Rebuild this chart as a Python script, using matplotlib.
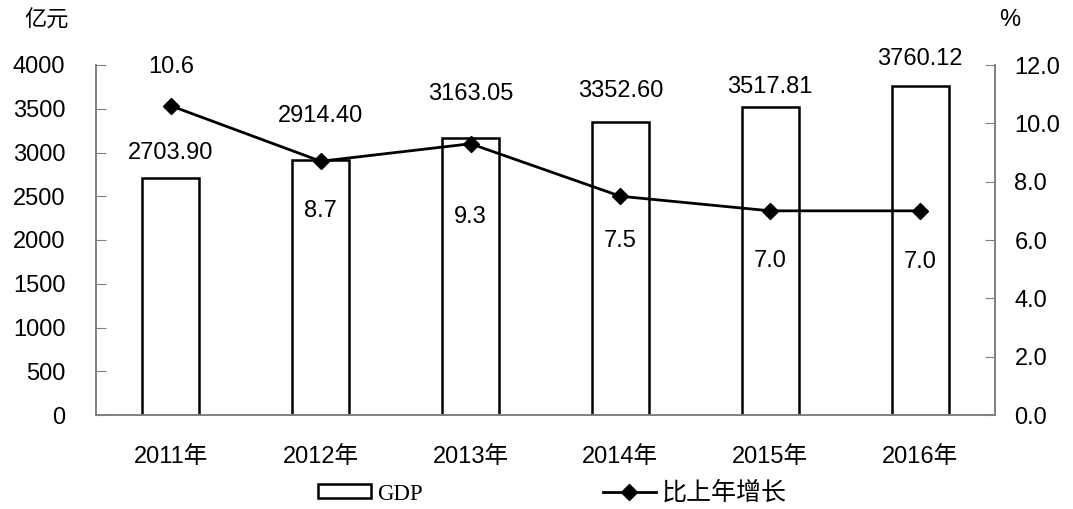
import matplotlib
matplotlib.use("Agg")
import matplotlib.pyplot as plt
from matplotlib.patches import Patch
from matplotlib.lines import Line2D

years = ["2011年", "2012年", "2013年", "2014年", "2015年", "2016年"]
gdp = [2703.90, 2914.40, 3163.05, 3352.60, 3517.81, 3760.12]
growth = [10.6, 8.7, 9.3, 7.5, 7.0, 7.0]
gdp_labels = ["2703.90", "2914.40", "3163.05", "3352.60", "3517.81", "3760.12"]
growth_labels = ["10.6", "8.7", "9.3", "7.5", "7.0", "7.0"]

FONT = ["Liberation Sans", "Noto Sans CJK SC"]
plt.rcParams['font.family'] = FONT

fig = plt.figure(figsize=(10.73, 5.09), dpi=100)
ax = fig.add_axes([96/1073, 1-415/509, (995-96)/1073, 350/509])
ax2 = ax.twinx()

x = list(range(len(years)))
ax.bar(x, gdp, width=0.38, facecolor="white", edgecolor="black", linewidth=1.8, zorder=2)
ax.set_xlim(-0.5, 5.5)
ax.set_ylim(0, 4000)
ax.set_yticks(range(0, 4001, 500))
ax2.set_ylim(0, 12)
ax2.set_yticks([0, 2, 4, 6, 8, 10, 12])
ax2.set_yticklabels([f"{v:.1f}" for v in [0, 2, 4, 6, 8, 10, 12]])

ax2.plot(x, growth, color="black", linewidth=2, marker="D", markersize=8, zorder=3)

gray = "#808080"
FS = 17
for a in (ax, ax2):
    a.spines['top'].set_visible(False)
    for s in ('left', 'right', 'bottom'):
        a.spines[s].set_color(gray)
        a.spines[s].set_linewidth(1.2)
    a.tick_params(labelsize=FS, colors="black")
ax.tick_params(axis='y', direction='in', length=7, color=gray, pad=22)
ax2.tick_params(axis='y', direction='in', length=7, color=gray, pad=14)
ax.tick_params(axis='x', length=0, pad=22)
ax.set_xticks(x)
ax.set_xticklabels(years, fontsize=FS)

px = 0.72
gdp_off = [25, 44, 44, 31, 20, 27]
for xi, v, lab, off in zip(x, gdp, gdp_labels, gdp_off):
    ax.annotate(lab, (xi, v), xytext=(0, off*px), textcoords="offset points",
                ha="center", va="center", fontsize=FS, zorder=5)

gr_off = [39, -50, -73, -45, -50, -51]
for xi, v, lab, off in zip(x, growth, growth_labels, gr_off):
    ax2.annotate(lab, (xi, v), xytext=(0, off*px), textcoords="offset points",
                 ha="center", va="center", fontsize=FS, zorder=5)

fig.text(47/1073, 1-20/509, "亿元", fontsize=16, ha="center", va="center",
         family=["Noto Sans CJK SC"])
fig.text(1010/1073, 1-20/509, "%", fontsize=FS, ha="center", va="center")

LS = 18
em = LS * 100 / 72
handles = [Patch(facecolor="white", edgecolor="black", linewidth=1.8),
           Line2D([0], [0], color="black", linewidth=2, marker="D", markersize=8)]
leg = fig.legend(handles, ["GDP", "比上年增长"], loc="center left",
                 bbox_to_anchor=(318/1073, 1-493/509),
                 ncol=2, frameon=False, borderpad=0, borderaxespad=0,
                 columnspacing=180/em, handlelength=53/em,
                 handletextpad=6/em, handleheight=11/em,
                 prop={"family": ["Noto Sans CJK SC"], "size": LS})
leg.get_texts()[0].set_family(["Liberation Serif"])
leg.get_texts()[0].set_fontsize(16.5)

fig.savefig("out.png", dpi=100)
